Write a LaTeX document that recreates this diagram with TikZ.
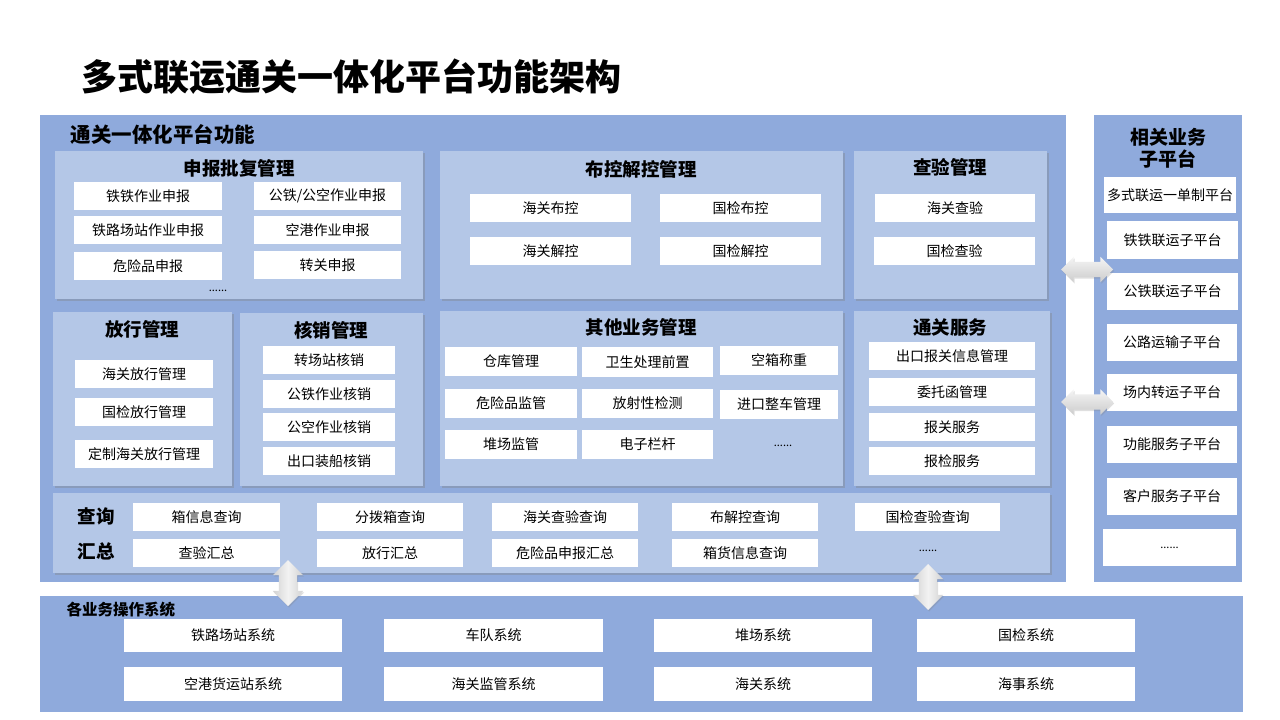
\documentclass[tikz,border=0pt]{standalone}
\usepackage{fontspec}
\setmainfont{Noto Sans CJK SC}
\usetikzlibrary{shadows,shapes.arrows}
\definecolor{mainblue}{RGB}{143,170,220}
\definecolor{panelblue}{RGB}{180,199,231}
\newcommand\rect[7]{\node[#1, minimum width={(#4-#2)*1pt}, minimum height={(#5-#3)*1pt}] (#6) at ({(#2+#4)/2},{(#3+#5)/2}) {#7};}
\begin{document}
\begin{tikzpicture}[x=1pt,y=-1pt,
  bg/.style={fill=mainblue, draw=none, inner sep=0pt, outer sep=0pt},
  panel/.style={fill=panelblue, draw=none, inner sep=0pt, outer sep=0pt,
    drop shadow={shadow xshift=1.5pt, shadow yshift=-2pt, opacity=0.35}},
  item/.style={fill=white, draw=none, inner sep=0pt, outer sep=0pt, font=\fontsize{14}{16}\selectfont},
  ptitle/.style={font=\fontsize{18.5}{21}\selectfont\bfseries},
  dots/.style={font=\fontsize{11}{12}\selectfont},
  darrow/.style={double arrow, draw=none, outer sep=0pt,
    drop shadow={shadow xshift=1pt, shadow yshift=-1.5pt, opacity=0.25}},
  harrow/.style={darrow, top color=gray!8, bottom color=gray!40,
    minimum height=52pt, inner sep=7.5pt, double arrow head extend=5pt},
  varrow/.style={darrow, shape border rotate=90, left color=gray!35, right color=gray!35, middle color=gray!10,
    minimum height=46pt, inner sep=9pt, double arrow head extend=6pt}
]
\useasboundingbox (0,0) rectangle (1280,720);
\fill[white] (0,0) rectangle (1280,720);

% title
\node[anchor=west, font=\fontsize{36}{40}\selectfont\bfseries] (title) at (78,77) {多式联运通关一体化平台功能架构};

% backgrounds
\rect{bg}{40}{115}{1066}{582}{main}{}
\rect{bg}{1094}{115}{1242}{582}{side}{}
\rect{bg}{40}{596}{1243}{712}{bottom}{}

\node[anchor=west, font=\fontsize{20.5}{22}\selectfont\bfseries] (mainT) at (67,134) {通关一体化平台功能};

% 申报批复管理
\rect{panel}{55}{151}{423}{299}{pA}{}
\node[ptitle] (pAt) at (239,168) {申报批复管理};
\rect{item}{74}{182}{222}{210}{a1}{铁铁作业申报}
\rect{item}{254}{182}{401}{210}{a2}{公铁/公空作业申报}
\rect{item}{74}{216}{222}{244}{a3}{铁路场站作业申报}
\rect{item}{254}{216}{401}{244}{a4}{空港作业申报}
\rect{item}{74}{252}{222}{280}{a5}{危险品申报}
\rect{item}{254}{251}{401}{279}{a6}{转关申报}
\node[dots] (aD) at (218,291) {......};

% 布控解控管理
\rect{panel}{440}{151}{843}{299}{pB}{}
\node[ptitle] (pBt) at (641,169) {布控解控管理};
\rect{item}{470}{194}{631}{222}{b1}{海关布控}
\rect{item}{660}{194}{821}{222}{b2}{国检布控}
\rect{item}{470}{237}{631}{265}{b3}{海关解控}
\rect{item}{660}{237}{821}{265}{b4}{国检解控}

% 查验管理
\rect{panel}{854}{151}{1047}{299}{pC}{}
\node[ptitle] (pCt) at (950,167) {查验管理};
\rect{item}{875}{194}{1035}{222}{c1}{海关查验}
\rect{item}{874}{237}{1035}{265}{c2}{国检查验}

% 放行管理
\rect{panel}{53}{312}{232}{486}{pD}{}
\node[ptitle] (pDt) at (142,329) {放行管理};
\rect{item}{75}{360}{213}{388}{d1}{海关放行管理}
\rect{item}{75}{398}{213}{426}{d2}{国检放行管理}
\rect{item}{75}{440}{213}{468}{d3}{定制海关放行管理}

% 核销管理
\rect{panel}{240}{313}{423}{486}{pE}{}
\node[ptitle] (pEt) at (331,330) {核销管理};
\rect{item}{263}{346}{395}{374}{e1}{转场站核销}
\rect{item}{263}{380}{395}{408}{e2}{公铁作业核销}
\rect{item}{263}{413}{395}{441}{e3}{公空作业核销}
\rect{item}{263}{447}{395}{475}{e4}{出口装船核销}

% 其他业务管理
\rect{panel}{440}{311}{843}{486}{pF}{}
\node[ptitle] (pFt) at (641,327) {其他业务管理};
\rect{item}{445}{347}{577}{376}{f1}{仓库管理}
\rect{item}{582}{347}{713}{377}{f2}{卫生处理前置}
\rect{item}{720}{346}{838}{375}{f3}{空箱称重}
\rect{item}{445}{389}{577}{418}{f4}{危险品监管}
\rect{item}{582}{389}{713}{418}{f5}{放射性检测}
\rect{item}{720}{390}{838}{419}{f6}{进口整车管理}
\rect{item}{445}{430}{577}{459}{f7}{堆场监管}
\rect{item}{582}{430}{713}{459}{f8}{电子栏杆}
\node[dots] (fD) at (783,446) {......};

% 通关服务
\rect{panel}{854}{311}{1050}{486}{pG}{}
\node[ptitle] (pGt) at (950,327) {通关服务};
\rect{item}{869}{342}{1035}{370}{g1}{出口报关信息管理}
\rect{item}{869}{378}{1035}{406}{g2}{委托函管理}
\rect{item}{869}{413}{1035}{441}{g3}{报关服务}
\rect{item}{869}{447}{1035}{475}{g4}{报检服务}

% 查询汇总
\rect{panel}{53}{493}{1050}{573}{pH}{}
\node[ptitle] (hq) at (96,516) {查询};
\node[ptitle] (hh) at (96,551) {汇总};
\rect{item}{133}{503}{280}{531}{h1}{箱信息查询}
\rect{item}{317}{503}{463}{531}{h2}{分拨箱查询}
\rect{item}{492}{503}{638}{531}{h3}{海关查验查询}
\rect{item}{672}{503}{818}{531}{h4}{布解控查询}
\rect{item}{855}{503}{1000}{531}{h5}{国检查验查询}
\rect{item}{133}{539}{280}{567}{h6}{查验汇总}
\rect{item}{317}{539}{463}{567}{h7}{放行汇总}
\rect{item}{492}{539}{638}{567}{h8}{危险品申报汇总}
\rect{item}{672}{539}{818}{567}{h9}{箱货信息查询}
\node[dots] (hD) at (928,551) {......};

% 相关业务子平台
\node[align=center, font=\fontsize{19}{22}\selectfont\bfseries] (sideT) at (1168,148) {相关业务\\子平台};
\rect{item}{1104}{177}{1236}{213}{s1}{多式联运一单制平台}
\rect{item}{1107}{221}{1238}{259}{s2}{铁铁联运子平台}
\rect{item}{1107}{273}{1238}{310}{s3}{公铁联运子平台}
\rect{item}{1107}{324}{1237}{361}{s4}{公路运输子平台}
\rect{item}{1107}{374}{1237}{411}{s5}{场内转运子平台}
\rect{item}{1107}{426}{1237}{463}{s6}{功能服务子平台}
\rect{item}{1107}{478}{1237}{515}{s7}{客户服务子平台}
\rect{item}{1103}{529}{1236}{566}{s8}{\fontsize{11}{12}\selectfont ......}

% 各业务操作系统
\node[anchor=west, font=\fontsize{15.5}{17}\selectfont\bfseries] (botT) at (63,610) {各业务操作系统};
\rect{item}{124}{619}{342}{652}{k1}{铁路场站系统}
\rect{item}{384}{619}{603}{652}{k2}{车队系统}
\rect{item}{654}{619}{872}{652}{k3}{堆场系统}
\rect{item}{917}{619}{1135}{652}{k4}{国检系统}
\rect{item}{124}{667}{342}{701}{k5}{空港货运站系统}
\rect{item}{384}{667}{603}{701}{k6}{海关监管系统}
\rect{item}{654}{667}{872}{701}{k7}{海关系统}
\rect{item}{917}{667}{1135}{701}{k8}{海事系统}

% double arrows
\node[harrow] (ar1) at (1087,269.5) {};
\node[harrow] (ar2) at (1087,402) {};
\node[varrow] (ar3) at (288,583) {};
\node[varrow] (ar4) at (928,587) {};
\end{tikzpicture}
\end{document}
